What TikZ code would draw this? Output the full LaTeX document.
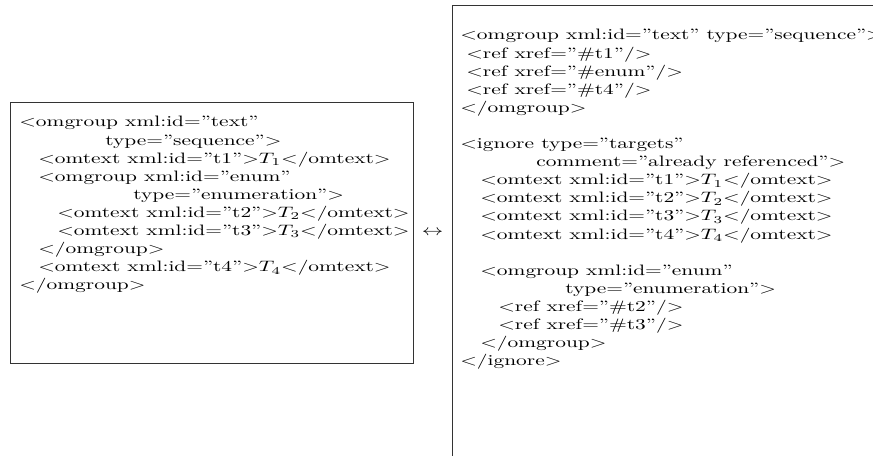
\documentclass[tikz,border=0pt]{standalone}
\usepackage{graphicx}
\usetikzlibrary{fit}
\newcommand\xq[1]{\textquotedblright#1\textquotedblright}
\newcommand\sx[1]{\scalebox{1.42}[1]{#1}}
\newcommand\lt{$<$}
\newcommand\gt{$>$}
\tikzset{
  txt/.style={anchor=base west, inner sep=0pt, font=\fontsize{10}{12}\selectfont},
  codebox/.style={draw=black!80, line width=0.6pt, inner sep=0pt},
}
\begin{document}
\begin{tikzpicture}[x=0.6631pt, y=-0.6631pt]
\clip (0,0) rectangle (873,456);
\fill[white] (0,0) rectangle (873,456);
% boxes
\coordinate (ltl) at (10,102);
\coordinate (lbr) at (413,363);
\node[codebox, fit=(ltl)(lbr)] (lbox) {};
\coordinate (rtl) at (452,5);
\coordinate (rbr) at (900,480);
\node[codebox, fit=(rtl)(rbr)] (rbox) {};
\node[inner sep=0pt, font=\fontsize{10}{12}\selectfont] (arr) at (432.5,233) {\sx{$\leftrightarrow$}};
% left box text
\node[txt] (l0) at (19,127.0) {\sx{\lt omgroup xml:id=\xq{text}}};
\node[txt] (l1) at (105,145.1) {\sx{type=\xq{sequence}\gt}};
\node[txt] (l2) at (38,163.2) {\sx{\lt omtext xml:id=\xq{t1}\gt$T_1$\lt/omtext\gt}};
\node[txt] (l3) at (38,181.3) {\sx{\lt omgroup xml:id=\xq{enum}}};
\node[txt] (l4) at (133,199.4) {\sx{type=\xq{enumeration}\gt}};
\node[txt] (l5) at (57,217.5) {\sx{\lt omtext xml:id=\xq{t2}\gt$T_2$\lt/omtext\gt}};
\node[txt] (l6) at (57,235.6) {\sx{\lt omtext xml:id=\xq{t3}\gt$T_3$\lt/omtext\gt}};
\node[txt] (l7) at (38,253.7) {\sx{\lt/omgroup\gt}};
\node[txt] (l8) at (38,271.8) {\sx{\lt omtext xml:id=\xq{t4}\gt$T_4$\lt/omtext\gt}};
\node[txt] (l9) at (19,289.9) {\sx{\lt/omgroup\gt}};
% right box text
\node[txt] (r0) at (460,40.0) {\sx{\lt omgroup xml:id=\xq{text} type=\xq{sequence}\gt}};
\node[txt] (r1) at (466,58.1) {\sx{\lt ref xref=\xq{\#t1}/\gt}};
\node[txt] (r2) at (466,76.2) {\sx{\lt ref xref=\xq{\#enum}/\gt}};
\node[txt] (r3) at (466,94.3) {\sx{\lt ref xref=\xq{\#t4}/\gt}};
\node[txt] (r4) at (460,112.4) {\sx{\lt/omgroup\gt}};
\node[txt] (r6) at (460,148.6) {\sx{\lt ignore type=\xq{targets}}};
\node[txt] (r7) at (536,166.7) {\sx{comment=\xq{already referenced}\gt}};
\node[txt] (r8) at (480,184.8) {\sx{\lt omtext xml:id=\xq{t1}\gt$T_1$\lt/omtext\gt}};
\node[txt] (r9) at (480,202.9) {\sx{\lt omtext xml:id=\xq{t2}\gt$T_2$\lt/omtext\gt}};
\node[txt] (r10) at (480,221.0) {\sx{\lt omtext xml:id=\xq{t3}\gt$T_3$\lt/omtext\gt}};
\node[txt] (r11) at (480,239.1) {\sx{\lt omtext xml:id=\xq{t4}\gt$T_4$\lt/omtext\gt}};
\node[txt] (r13) at (480,275.3) {\sx{\lt omgroup xml:id=\xq{enum}}};
\node[txt] (r14) at (565,293.4) {\sx{type=\xq{enumeration}\gt}};
\node[txt] (r15) at (498,311.5) {\sx{\lt ref xref=\xq{\#t2}/\gt}};
\node[txt] (r16) at (498,329.6) {\sx{\lt ref xref=\xq{\#t3}/\gt}};
\node[txt] (r17) at (480,347.7) {\sx{\lt/omgroup\gt}};
\node[txt] (r18) at (460,365.8) {\sx{\lt/ignore\gt}};
\end{tikzpicture}
\end{document}
